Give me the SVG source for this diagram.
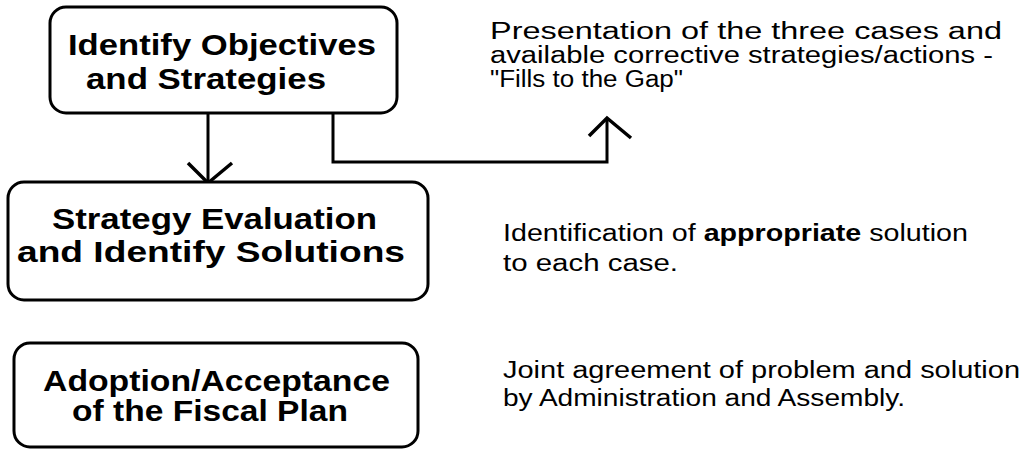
<svg xmlns="http://www.w3.org/2000/svg" width="1034" height="450" viewBox="0 0 1034 450">
  <style>
    .box { fill: #fff; stroke: #000; stroke-width: 3; }
    .title { font-family: "Liberation Sans", Arial, sans-serif; font-weight: bold; font-size: 30px; fill: #000; }
    .note { font-family: "Liberation Sans", Arial, sans-serif; font-size: 23px; fill: #000; }
    .line { fill: none; stroke: #000; stroke-width: 3; stroke-linejoin: miter; }
    .head { fill: none; stroke: #000; stroke-width: 3.5; stroke-linecap: butt; }
  </style>
  <rect width="1034" height="450" fill="#fff"/>

  <g id="connectors">
    <line class="line" x1="208" y1="113" x2="208" y2="182"/>
    <polyline class="head" points="188,163 208,183 232,163"/>
    <polyline class="line" points="333,113 333,162 607,162 607,119"/>
    <polyline class="head" points="589,136 607,118 631,138"/>
  </g>

  <g id="node-objectives">
    <rect class="box" x="50" y="7" width="347" height="106" rx="16"/>
    <text class="title" x="68" y="55" textLength="308" lengthAdjust="spacingAndGlyphs">Identify Objectives</text>
    <text class="title" x="86" y="89" textLength="240" lengthAdjust="spacingAndGlyphs">and Strategies</text>
  </g>

  <g id="node-evaluation">
    <rect class="box" x="8" y="182" width="420" height="118" rx="16"/>
    <text class="title" x="52" y="229" textLength="325" lengthAdjust="spacingAndGlyphs">Strategy Evaluation</text>
    <text class="title" x="17" y="262" textLength="388" lengthAdjust="spacingAndGlyphs">and Identify Solutions</text>
  </g>

  <g id="node-adoption">
    <rect class="box" x="14" y="343" width="404" height="104" rx="16"/>
    <text class="title" x="43" y="391" textLength="347" lengthAdjust="spacingAndGlyphs">Adoption/Acceptance</text>
    <text class="title" x="72" y="421" textLength="276" lengthAdjust="spacingAndGlyphs">of the Fiscal Plan</text>
  </g>

  <g id="note-presentation">
    <text class="note" x="490" y="39" textLength="512" lengthAdjust="spacingAndGlyphs">Presentation of the three cases and</text>
    <text class="note" x="490" y="63" textLength="503" lengthAdjust="spacingAndGlyphs">available corrective strategies/actions -</text>
    <text class="note" x="490" y="87" textLength="193" lengthAdjust="spacingAndGlyphs">"Fills to the Gap"</text>
  </g>

  <g id="note-identification">
    <text class="note" x="503" y="241" textLength="465" lengthAdjust="spacingAndGlyphs">Identification of <tspan font-weight="bold">appropriate</tspan> solution</text>
    <text class="note" x="503" y="271" textLength="175" lengthAdjust="spacingAndGlyphs">to each case.</text>
  </g>

  <g id="note-agreement">
    <text class="note" x="503" y="378" textLength="517" lengthAdjust="spacingAndGlyphs">Joint agreement of problem and solution</text>
    <text class="note" x="503" y="406" textLength="402" lengthAdjust="spacingAndGlyphs">by Administration and Assembly.</text>
  </g>
</svg>
